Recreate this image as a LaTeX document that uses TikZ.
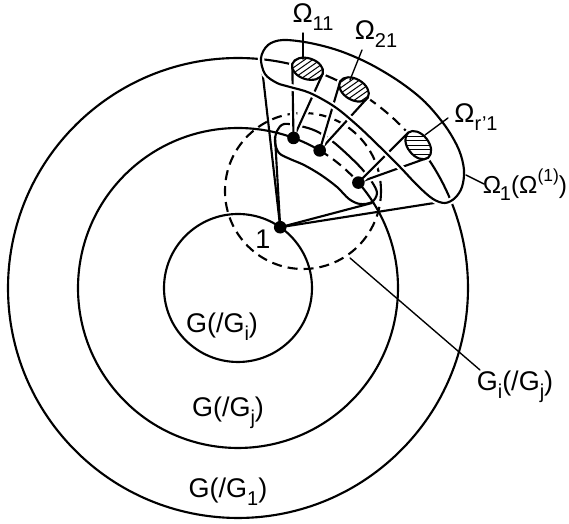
\documentclass[tikz,border=0pt]{standalone}
\usepackage{fontspec}
\setmainfont{Liberation Sans}
\usetikzlibrary{calc}
\newcommand\lowsub[1]{\raisebox{-0.55ex}{\fontsize{8}{8}\selectfont #1}}
\newcommand\highsup[1]{\raisebox{0.9ex}{\fontsize{7}{7}\selectfont #1}}
\begin{document}
\begin{tikzpicture}[x=0.4pt,y=-0.4pt,line join=round,line cap=round,
  ln/.style={line width=0.85pt},
  leader/.style={line width=0.55pt},
  dsh/.style={line width=0.85pt,dash pattern=on 4pt off 2.4pt,line cap=butt},
  hatch/.style={line width=0.4pt},
  halo/.style={preaction={draw=white,line width=2.6pt}},
  lbl/.style={font=\fontsize{10.8}{12}\selectfont,inner sep=0pt}]
\useasboundingbox (0,0) rectangle (569,524);
% centres
\coordinate (O) at (238,288);
\coordinate (D) at (303,191);
\coordinate (P1) at ($(O)+(-55.2:74)$);
% dots on the middle circle
\coordinate (d1) at ($(O)+(-69.7:160)$);
\coordinate (d2) at ($(O)+(-59.3:160)$);
\coordinate (d3) at ($(O)+(-41.2:160)$);
% ellipses on the outer circle
\coordinate (e1) at ($(O)+(-72.4:230)$);
\coordinate (e2) at ($(O)+(-59.7:230)$);
\coordinate (e3) at ($(O)+(-38.4:230)$);
\coordinate (e1a) at ($(e1)+(17.6:16)$);
\coordinate (e1b) at ($(e1)+(-162.4:16)$);
\coordinate (e2a) at ($(e2)+(30.3:16)$);
\coordinate (e2b) at ($(e2)+(-149.7:16)$);
\coordinate (e3a) at ($(e3)+(51.6:16)$);
\coordinate (e3b) at ($(e3)+(-128.4:16)$);
% cone end points
\coordinate (c1) at (261,59);
\coordinate (c2) at (275,137);
\coordinate (c3) at (372,203);
\coordinate (c4) at (447,201);

% concentric circles
\draw[ln] (O) circle[radius=74];
\draw[ln] (O) ++(-41.2:160) arc[start angle=-41.2,end angle=300.7,radius=160];
\draw[dsh] (O) ++(-59.3:160) arc[start angle=-59.3,end angle=-41.2,radius=160];
\draw[ln] (O) ++(-42.9:230) arc[start angle=-42.9,end angle=304.3,radius=230];
\draw[dsh] (O) ++(-55.7:230) arc[start angle=-55.7,end angle=-42.9,radius=230];
% dashed circle
\draw[dsh] (D) circle[radius=78];
% cone lines from 1
\draw[ln] (P1) -- (c1);
\draw[ln] (P1) -- (c2);
\draw[ln] (P1) -- (c3);
\draw[ln] (P1) -- (c4);
% small band
\draw[ln] plot[smooth cycle,tension=0.55] coordinates {
  (284,124) (300,126) (316,131) (332,141) (348,155) (362,169) (372,182)
  (377,193) (372,202) (360,204) (349,199)
  (337,187) (321,175) (304,165) (290,159)
  (279,153) (275,142) (277,131)};
% spokes
\draw[ln,halo] (d1) -- (e1a);
\draw[ln,halo] (d1) -- (e1b);
\draw[ln,halo] (d2) -- (e2a);
\draw[ln,halo] (d2) -- (e2b);
\draw[ln,halo] (d3) -- (e3a);
\draw[ln,halo] (d3) -- (e3b);
% big band
\draw[ln,halo] plot[smooth cycle,tension=0.55] coordinates {
  (265,74) (261,58) (268,45) (283,40) (310,43) (340,51) (370,64) (400,82)
  (425,102) (446,127) (459,150) (464,170) (462,187) (455,198) (445,203)
  (433,199) (418,186) (400,167) (380,147) (358,126) (335,107) (310,93)
  (290,87) (277,83)};
% ellipses
\foreach \e/\r/\h in {e1/-17.6/35, e2/-30.3/35, e3/-51.6/0}{
  \begin{scope}[shift={(\e)}]
    \begin{scope}
      \clip[rotate=\r] (0,0) ellipse[x radius=16,y radius=10.5];
      \fill[white] (-30,-30) rectangle (30,30);
      \begin{scope}[rotate=\h]
        \foreach \k in {-27,-22.5,...,27} \draw[hatch] (-30,\k) -- (30,\k);
      \end{scope}
    \end{scope}
    \draw[ln,rotate=\r] (0,0) ellipse[x radius=16,y radius=10.5];
  \end{scope}
}
% dots
\foreach \p in {P1,d1,d2,d3} \fill (\p) circle[radius=6.3];
% labels
\node[lbl] (t1) at (263,239) {1};
\node[lbl] (gi) at (222,327) {G(/G\lowsub{i})};
\node[lbl] (gj) at (228,413) {G(/G\lowsub{j})};
\node[lbl] (g1) at (228,492) {G(/G\lowsub{1})};
\node[lbl] (gij) at (515,387) {G\lowsub{i}(/G\lowsub{j})};
\node[lbl] (o11) at (313,17) {Ω\lowsub{11}};
\node[lbl] (o21) at (376,34) {Ω\lowsub{21}};
\node[lbl] (or1) at (476,117) {Ω\lowsub{r’1}};
\node[lbl,font=\fontsize{9.8}{11}\selectfont] (o1) at (525,185)
  {Ω\kern-0.5pt\lowsub{1}(Ω\highsup{(1)})};
% leaders
\coordinate (k11a) at (303,33); \coordinate (k11b) at (303,59);
\coordinate (k21a) at (362,50); \coordinate (k21b) at (350,80);
\coordinate (kr1a) at (448,118); \coordinate (kr1b) at (425,135);
\coordinate (k1a) at (466,175); \coordinate (k1b) at (484,184);
\coordinate (kga) at (350,258); \coordinate (kgb) at (480,370);
\draw[leader] (k11a) -- (k11b);
\draw[leader] (k21a) -- (k21b);
\draw[leader] (kr1a) -- (kr1b);
\draw[leader] (k1a) -- (k1b);
\draw[leader] (kga) -- (kgb);
\end{tikzpicture}
\end{document}
